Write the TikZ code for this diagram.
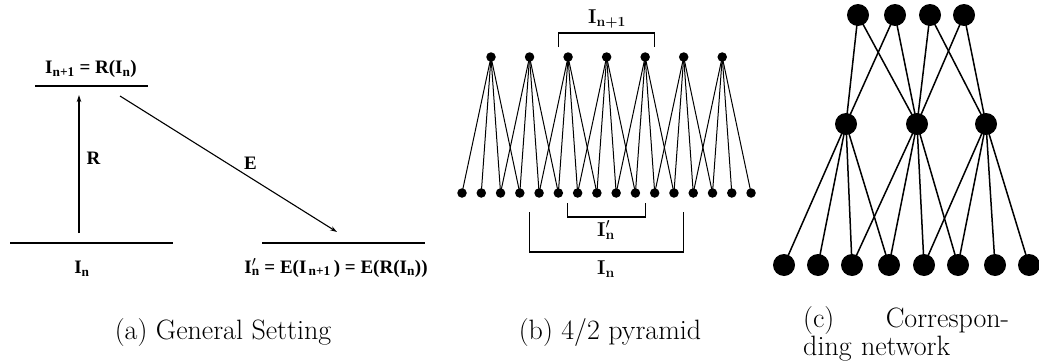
\documentclass[tikz,border=0pt]{standalone}
\usepackage{fontspec}
\newfontfamily\labfont{Liberation Serif}
\usetikzlibrary{arrows.meta, calc}
\tikzset{
  lvl/.style={line width=1.6pt},
  map/.style={line width=1.1pt, -{Stealth[length=7pt, width=4.5pt]}},
  lab/.style={font=\labfont\bfseries\fontsize{19}{22}\selectfont, inner sep=1pt},
  pix/.style={circle, fill=black, inner sep=0pt, minimum size=#1},
  pix/.default=9.5pt,
  wire/.style={line width=1pt},
  net/.style={line width=1.5pt},
  brk/.style={line width=1.1pt},
  blab/.style={font=\bfseries\fontsize{20}{24}\selectfont, inner sep=1pt},
  capt/.style={font=\fontsize{28}{28}\selectfont, inner sep=0pt, anchor=base},
}
\newcommand{\sub}[1]{\textsubscript{#1}}
\newcommand{\prm}{\rlap{$^{\prime}$}}

\begin{document}
\begin{tikzpicture}[x=1pt, y=-1pt]
\useasboundingbox (0,0) rectangle (1039,364);

% ── (a) general setting ─────────────────────────────────────
\coordinate (upL) at (35,86);   \coordinate (upR) at (148,86);
\coordinate (inL) at (10,243);  \coordinate (inR) at (173,243);
\coordinate (exL) at (262,243); \coordinate (exR) at (425,243);
\draw[lvl] (upL) -- (upR);
\draw[lvl] (inL) -- (inR);
\draw[lvl] (exL) -- (exR);
\node[lab] (lup) at (91,69) {I\sub{n+1} = R(I\sub{n})};
\node[lab] (lin) at (82,269) {I\sub{n}};
\node[lab] (lex) at (336,268) {I\prm\sub{n} = E(I\sub{\,n+1}\,) = E(R(I\sub{n}))};
\coordinate (rFrom) at (79,233); \coordinate (rTo) at (79,95);
\coordinate (eFrom) at (120,96); \coordinate (eTo) at (337,232);
\draw[map] (rFrom) -- (rTo) node[midway, lab, right=6pt, yshift=6pt] {R};
\draw[map] (eFrom) -- (eTo) node[pos=0.56, lab, above right=1pt] {E};

% ── (b) 4/2 pyramid ─────────────────────────────────────────
\foreach \j in {0,...,15}
  \node[pix] (b\j) at ({462+19.27*\j},193) {};
\foreach \i in {0,...,6}
  \node[pix] (t\i) at ({491+38.54*\i},57) {};
\foreach \i in {0,...,6}
  \foreach \k in {0,...,3} {
    \pgfmathtruncatemacro\j{2*\i+\k}
    \draw[wire] (t\i.center) -- (b\j.center);
  }
\draw[brk] ($(t2)+(-10,-10)$) |- ($(t4)+(9,-24)$) -- ++(0,14);
\node[blab] (lnext) at (607,19) {I\sub{n+1}};
\draw[brk] ($(t2|-b0)+(-1,10)$) |- ($(t4|-b0)+(0,24)$) -- ++(0,-14);
\node[blab] (lprev) at (606,230) {I\prm\sub{n}};
\draw[brk] ($(t1|-b0)+(0,19)$) |- ($(t5|-b0)+(0,59)$) -- ++(0,-40);
\node[blab] (lcur) at (606,269) {I\sub{n}};

% ── (c) corresponding network ───────────────────────────────
\foreach \x [count=\n from 0] in {858,895,930,964}
  \node[pix=22pt] (ct\n) at (\x,15) {};
\foreach \x [count=\n from 0] in {846,917,986}
  \node[pix=22pt] (cm\n) at (\x,124) {};
\foreach \x [count=\n from 0] in {784,818,852,889,924,958,995,1029}
  \node[pix=22pt] (cb\n) at (\x,265) {};
\foreach \a/\b in {0/0,0/1,1/0,1/1,2/1,2/2,3/1,3/2}
  \draw[net] (ct\a.center) -- (cm\b.center);
\foreach \i in {0,1,2}
  \foreach \k in {0,...,3} {
    \pgfmathtruncatemacro\j{2*\i+\k}
    \draw[net] (cm\i.center) -- (cb\j.center);
  }

% ── captions ────────────────────────────────────────────────
\node[capt] (capa) at (223,339) {(a) General Setting};
\node[capt] (capb) at (610,339) {(b) 4/2 pyramid};
\node[capt, text width=206pt, align=left, anchor=base west] (capc) at (803,327)
  {(c)\hfill Correspon-\\ding network};

\end{tikzpicture}
\end{document}
